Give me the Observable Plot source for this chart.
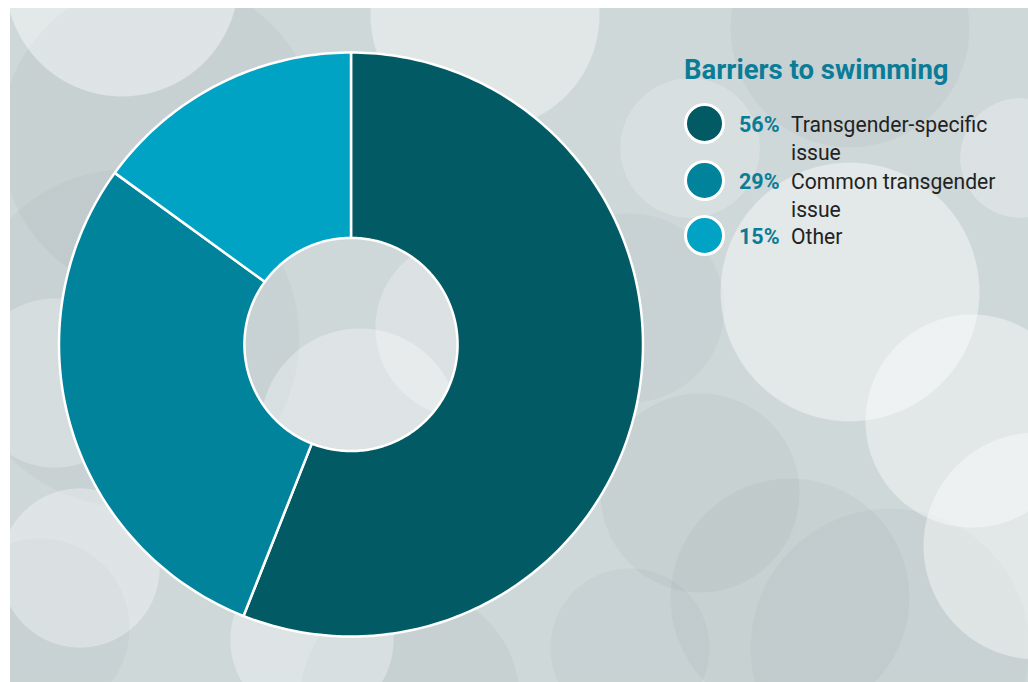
<!DOCTYPE html>
<html>
<head>
<meta charset="utf-8">
<script src="https://cdn.jsdelivr.net/npm/d3@7"></script>
<script src="https://cdn.jsdelivr.net/npm/@observablehq/plot@0.6"></script>
<style>
  html, body { margin: 0; padding: 0; background: #ffffff; }
  #wrap { position: relative; width: 1028px; height: 682px; overflow: hidden; font-family: Roboto, "Noto Sans", sans-serif; }
  #panel {
    position: absolute; left: 10px; top: 8px; width: 1018px; height: 674px;
    background-color: #cfd8d9;
    background-image:
      radial-gradient(circle 117px at 112px -28px, rgba(255,255,255,0.42) 99%, transparent 100%),
      radial-gradient(circle 115px at 475px 7px, rgba(255,255,255,0.38) 99%, transparent 100%),
      radial-gradient(circle 130px at 840px 284px, rgba(255,255,255,0.42) 99%, transparent 100%),
      radial-gradient(circle 107px at 962px 413px, rgba(255,255,255,0.40) 99%, transparent 100%),
      radial-gradient(circle 114px at 1027px 538px, rgba(255,255,255,0.40) 99%, transparent 100%),
      radial-gradient(circle 80px at 70px 560px, rgba(255,255,255,0.32) 99%, transparent 100%),
      radial-gradient(circle 85px at 45px 375px, rgba(255,255,255,0.25) 99%, transparent 100%),
      radial-gradient(circle 82px at 302px 632px, rgba(255,255,255,0.30) 99%, transparent 100%),
      radial-gradient(circle 100px at 350px 420px, rgba(255,255,255,0.30) 99%, transparent 100%),
      radial-gradient(circle 90px at 455px 320px, rgba(255,255,255,0.25) 99%, transparent 100%),
      radial-gradient(circle 60px at 1010px 150px, rgba(255,255,255,0.25) 99%, transparent 100%),
      radial-gradient(circle 70px at 680px 140px, rgba(255,255,255,0.18) 99%, transparent 100%),
      radial-gradient(circle 160px at 150px 130px, rgba(80,95,100,0.06) 99%, transparent 100%),
      radial-gradient(circle 170px at 120px 330px, rgba(80,95,100,0.05) 99%, transparent 100%),
      radial-gradient(circle 120px at 840px 20px, rgba(80,95,100,0.06) 99%, transparent 100%),
      radial-gradient(circle 100px at 690px 485px, rgba(80,95,100,0.06) 99%, transparent 100%),
      radial-gradient(circle 95px at 620px 300px, rgba(80,95,100,0.05) 99%, transparent 100%),
      radial-gradient(circle 120px at 780px 590px, rgba(80,95,100,0.06) 99%, transparent 100%),
      radial-gradient(circle 140px at 880px 640px, rgba(80,95,100,0.05) 99%, transparent 100%),
      radial-gradient(circle 110px at 400px 690px, rgba(80,95,100,0.06) 99%, transparent 100%),
      radial-gradient(circle 90px at 30px 620px, rgba(80,95,100,0.05) 99%, transparent 100%),
      radial-gradient(circle 80px at 620px 640px, rgba(80,95,100,0.05) 99%, transparent 100%);
  }
  #chart { position: absolute; left: 0; top: 0; }
  #legend { position: absolute; left: 684px; top: 50px; }
  #legend .title { position: absolute; left: 0; top: 3px; font-weight: 700; font-size: 27.5px; color: #0b7c97; white-space: nowrap; line-height: 34px; }
  .item { position: absolute; left: 0; }
  .swatch { position: absolute; left: 0; width: 35px; height: 35px; border-radius: 50%; border: 3px solid #ffffff; }
  .pct { position: absolute; left: 55px; font-weight: 700; font-size: 21.5px; color: #0b7c97; white-space: nowrap; }
  .lab { position: absolute; left: 107px; font-size: 22px; color: #222222; line-height: 28px; white-space: nowrap; transform: scaleX(0.96); transform-origin: left top; }
</style>
</head>
<body>
<div id="wrap">
  <div id="panel"></div>
  <div id="chart"></div>
  <div id="legend"></div>
</div>
<script>
// ---- data ----
const title = "Barriers to swimming";
const categories = ["Transgender-specific issue", "Common transgender issue", "Other"];
const labelLines = [["Transgender-specific", "issue"], ["Common transgender", "issue"], ["Other"]];
const shares = [56, 29, 15];
const colors = ["#025b64", "#01839b", "#00a3c3"];

// ---- donut geometry ----
const outerR = 1, innerR = 0.365;
const total = d3.sum(shares);
const points = [];
let acc = 0;
shares.forEach((v, i) => {
  const a0 = acc / total * 2 * Math.PI;
  acc += v;
  const a1 = acc / total * 2 * Math.PI;
  const n = Math.max(8, Math.ceil((a1 - a0) / (2 * Math.PI) * 360));
  for (let k = 0; k <= n; k++) {
    const a = a0 + (a1 - a0) * k / n;
    points.push({key: categories[i], x: outerR * Math.sin(a), y: outerR * Math.cos(a)});
  }
  for (let k = n; k >= 0; k--) {
    const a = a0 + (a1 - a0) * k / n;
    points.push({key: categories[i], x: innerR * Math.sin(a), y: innerR * Math.cos(a)});
  }
});

const chart = Plot.plot({
  width: 1028,
  height: 682,
  margin: 0,
  style: {background: "transparent", overflow: "visible"},
  x: {domain: [-1, 1], range: [58.5, 642.5], axis: null},
  y: {domain: [-1, 1], range: [636, 52], axis: null},
  color: {domain: categories, range: colors},
  marks: [
    Plot.line(points, {x: "x", y: "y", z: "key", fill: "key", stroke: "#ffffff", strokeWidth: 2.5, curve: "linear-closed"})
  ]
});
document.getElementById("chart").appendChild(chart);

// ---- legend ----
const legend = document.getElementById("legend");
const t = document.createElement("div");
t.className = "title";
t.textContent = title;
legend.appendChild(t);
const tops = [53, 110, 165];
categories.forEach((c, i) => {
  const item = document.createElement("div");
  item.className = "item";
  item.style.top = tops[i] + "px";
  const sw = document.createElement("div");
  sw.className = "swatch";
  sw.style.background = colors[i];
  item.appendChild(sw);
  const p = document.createElement("div");
  p.className = "pct";
  p.style.top = "9px";
  p.textContent = shares[i] + "%";
  item.appendChild(p);
  const l = document.createElement("div");
  l.className = "lab";
  l.style.top = "8px";
  l.innerHTML = labelLines[i].join("<br>");
  item.appendChild(l);
  legend.appendChild(item);
});
</script>
</body>
</html>
